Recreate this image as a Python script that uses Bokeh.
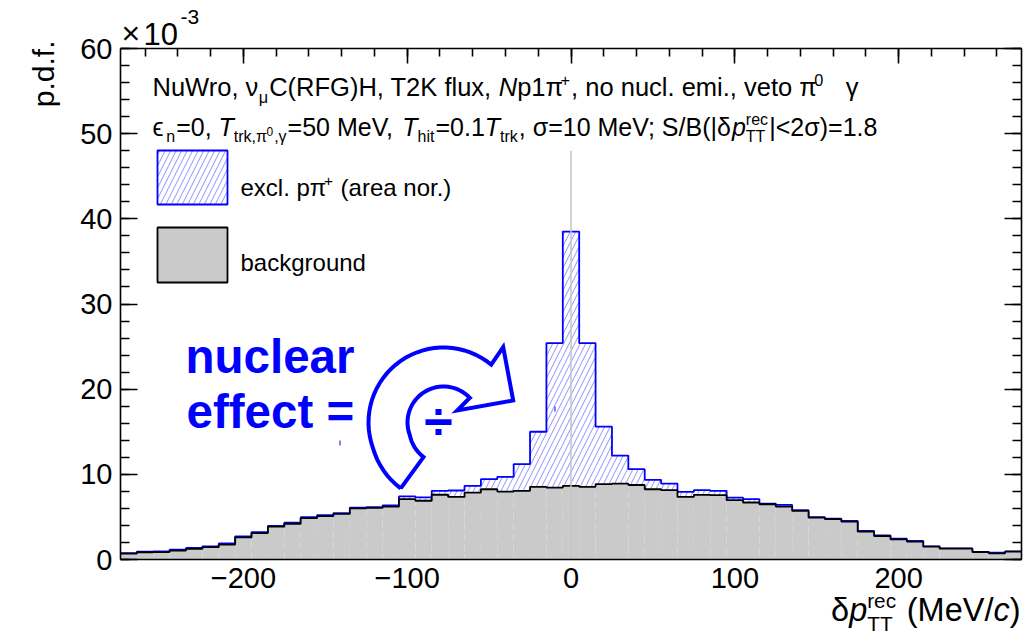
import math
from bokeh.plotting import figure
from bokeh.models import (Range1d, LinearAxis, FixedTicker, Label, ColumnDataSource)
from bokeh.embed import file_html
from bokeh.resources import INLINE

# ---------------- data (p.d.f. in units of 1e-3) ----------------
bin_edges = list(range(-275, 276, 10))  # 55 bins of 10 MeV/c

background_pdf = [
    0.70, 0.85, 0.87, 1.05, 1.25, 1.45, 1.75, 2.60, 3.10, 3.85,
    4.20, 4.85, 5.10, 5.35, 6.00, 6.05, 6.20, 7.10, 6.90, 7.60,
    7.35, 7.86, 8.25, 7.98, 8.06, 8.53, 8.45, 8.65, 8.53, 8.84,
    8.92, 8.75, 8.25, 8.14, 7.35, 7.59, 7.55, 6.96, 6.69, 6.49,
    6.22, 5.70, 4.92, 4.73, 4.45, 3.27, 2.76, 2.37, 2.10, 1.51,
    1.27, 1.27, 0.88, 0.73, 0.92]

signal_pdf = [
    0.75, 0.92, 0.94, 1.15, 1.35, 1.55, 1.88, 2.72, 3.22, 3.95,
    4.32, 4.97, 5.20, 5.45, 6.10, 6.15, 6.35, 7.42, 7.30, 8.06,
    8.10, 8.65, 9.43, 9.70, 11.2, 15.0, 25.4, 38.5, 25.4, 15.6,
    12.2, 10.6, 9.35, 8.92, 7.94, 8.14, 8.06, 7.27, 7.08, 6.57,
    6.41, 5.78, 4.97, 4.80, 4.53, 3.35, 2.84, 2.45, 2.18, 1.55,
    1.31, 1.31, 0.90, 0.80, 0.94]

x_ticks = [-200, -100, 0, 100, 200]
x_minor = list(range(-260, 261, 20))
y_ticks = [0, 10, 20, 30, 40, 50, 60]
y_minor = list(range(0, 61, 2))
X_LIM = (-275, 275)
Y_LIM = (0, 60)
legend_labels = ["excl. pπ", "background"]

# ---------------- geometry: the frame box inside the canvas ----------------
W, H = 1024, 643
BOX_L, BOX_R, BOX_T, BOX_B = 120, 1021, 48, 559
SX = (X_LIM[1] - X_LIM[0]) / (BOX_R - BOX_L)
SY = (Y_LIM[1] - Y_LIM[0]) / (BOX_B - BOX_T)
x_range = Range1d(X_LIM[0] - BOX_L * SX, X_LIM[0] + (W - BOX_L) * SX)
y_range = Range1d(Y_LIM[0] - (H - BOX_B) * SY, Y_LIM[0] + BOX_B * SY)


def px_x(px):
    return X_LIM[0] + (px - BOX_L) * SX


def px_y(py):
    return Y_LIM[0] + (BOX_B - py) * SY


p = figure(width=W, height=H, x_range=x_range, y_range=y_range,
           x_axis_type=None, y_axis_type=None,
           output_backend="svg", toolbar_location=None,
           min_border=0, min_border_left=0, min_border_right=0,
           min_border_top=0, min_border_bottom=0)
p.xgrid.visible = False
p.ygrid.visible = False
p.background_fill_color = "white"
p.border_fill_color = "white"
p.outline_line_color = None

FONT = "Liberation Sans"


def make_axis(loc, ticks, minor, major_len, minor_len, bounds, labels):
    ax = LinearAxis(fixed_location=loc, bounds=bounds,
                    ticker=FixedTicker(ticks=ticks, minor_ticks=minor))
    ax.axis_line_color = "black"
    ax.axis_line_width = 1.6
    ax.major_tick_in = major_len
    ax.major_tick_out = 0
    ax.minor_tick_in = minor_len
    ax.minor_tick_out = 0
    ax.major_tick_line_width = 1.6
    ax.minor_tick_line_width = 1.6
    ax.major_tick_line_color = "black"
    ax.minor_tick_line_color = "black"
    if labels:
        ax.major_label_text_font = FONT
        ax.major_label_text_font_size = "29px"
        ax.major_label_text_color = "black"
        ax.major_label_standoff = 8
    else:
        ax.major_label_text_font_size = "0px"
        ax.major_label_text_alpha = 0
        ax.major_label_standoff = 0
    return ax


# ---------------- histograms ----------------
lefts = bin_edges[:-1]
rights = bin_edges[1:]
src = ColumnDataSource(dict(left=lefts, right=rights, bkg=background_pdf, sig=signal_pdf,
                            zero=[0] * len(lefts)))

HATCH = dict(hatch_pattern="/", hatch_color="#5a5aff", hatch_alpha=0.85,
             hatch_scale=11, hatch_weight=0.8)
p.quad(left="left", right="right", bottom="zero", top="sig", source=src,
       fill_alpha=0, line_alpha=0, **HATCH)
p.step(x=bin_edges, y=signal_pdf + [signal_pdf[-1]], mode="after",
       line_color="#0000ff", line_width=1.8)
p.quad(left="left", right="right", bottom="zero", top="bkg", source=src,
       fill_color="#cacaca", line_alpha=0)
p.step(x=bin_edges, y=background_pdf + [background_pdf[-1]], mode="after",
       line_color="black", line_width=1.8)

# vertical line at 0
p.segment(x0=[0], y0=[0], x1=[0], y1=[48], line_color="#c4c4c4", line_width=1.5)

# axes (drawn as the frame box)
p.add_layout(make_axis(Y_LIM[0], x_ticks, x_minor, 0, 0, X_LIM, True), "below")
p.add_layout(make_axis(X_LIM[0], y_ticks, y_minor, 17, 9, Y_LIM, True), "left")
p.add_layout(make_axis(Y_LIM[1], x_ticks, x_minor, 15, 8, X_LIM, False), "above")
p.add_layout(make_axis(X_LIM[1], y_ticks, y_minor, 17, 9, Y_LIM, False), "right")

# ---------------- rich text helper ----------------
CW = {' ': .278, '!': .278, '(': .333, ')': .333, '+': .584, ',': .278, '-': .333, '.': .278,
      '/': .278, ':': .278, ';': .278, '<': .584, '=': .584, '>': .584, '|': .26,
      'A': .667, 'B': .667, 'C': .722, 'D': .722, 'E': .667, 'F': .611, 'G': .778, 'H': .722,
      'I': .278, 'J': .5, 'K': .667, 'L': .556, 'M': .833, 'N': .722, 'O': .778, 'P': .667,
      'Q': .778, 'R': .722, 'S': .667, 'T': .611, 'U': .722, 'V': .667, 'W': .944, 'X': .667,
      'Y': .667, 'Z': .611, 'a': .556, 'b': .556, 'c': .5, 'd': .556, 'e': .556, 'f': .278,
      'g': .556, 'h': .556, 'i': .222, 'j': .222, 'k': .5, 'l': .222, 'm': .833, 'n': .556,
      'o': .556, 'p': .556, 'q': .556, 'r': .333, 's': .5, 't': .278, 'u': .556, 'v': .5,
      'w': .722, 'x': .5, 'y': .5, 'z': .5, 'π': .59, 'ν': .5, 'μ': .577, 'γ': .5,
      'σ': .62, 'δ': .556, 'ϵ': .55, '×': .584}
MID = 0.35  # distance from baseline to the em-box middle, in em


def tw(s, size):
    return sum(CW.get(ch, .556) for ch in s) * size


def put(text, x_px, base_px, size, italic=False, color="black", bold=False):
    lead = len(text) - len(text.lstrip(" "))
    x_px += tw(" " * lead, size)
    text = text.strip(" ")
    style = "normal"
    if italic and bold:
        style = "bold italic"
    elif italic:
        style = "italic"
    elif bold:
        style = "bold"
    p.add_layout(Label(x=px_x(x_px), y=px_y(base_px - MID * size), text=text, text_font=FONT,
                       text_font_size=f"{size:.1f}px", text_font_style=style,
                       text_color=color, text_align="left", text_baseline="middle"))


SUBF = 0.64


def rich(segments, x_px, base_px, size, color="black", draw=True):
    x = x_px
    for seg in segments:
        if seg[1] == "subsup":
            sub, sup = seg[0]
            s2 = size * SUBF
            if draw:
                put(sub, x, base_px + 0.28 * size, s2, color=color)
                put(sup, x, base_px - 0.42 * size, s2, color=color)
            x += max(tw(sub, s2), tw(sup, s2)) + 0.05 * size
            continue
        text, kind, it = seg
        if kind == "n":
            s2, off = size, 0
        elif kind == "sub":
            s2, off = size * SUBF, 0.28 * size
        elif kind == "sup":
            s2, off = size * SUBF, -0.40 * size
        else:  # superscript inside subscript
            s2, off = size * 0.48, 0.0
        if draw:
            put(text, x, base_px + off, s2, italic=it, color=color)
        x += tw(text, s2) + (0.04 * size if kind != "n" else 0)
    return x - x_px


line1 = [("NuWro, ν", "n", False), ("μ", "sub", False), ("C(RFG)H, T2K flux, ", "n", False),
         ("N", "n", True), ("p1π", "n", False), ("+", "sup", False),
         (", no nucl. emi., veto π", "n", False), ("0", "sup", False), ("   γ", "n", False)]
rich(line1, 152, 95, 25.5)

line2 = [("ϵ", "n", False), ("n", "sub", False), ("=0, ", "n", False), ("T", "n", True),
         ("trk,π", "sub", False), ("0", "ssup", False), (",γ", "sub", False),
         ("=50 MeV, ", "n", False), ("T", "n", True), ("hit", "sub", False),
         ("=0.1", "n", False), ("T", "n", True), ("trk", "sub", False),
         (", σ=10 MeV; S/B(|δ", "n", False), ("p", "n", True), (("TT", "rec"), "subsup"),
         ("|<2σ)=1.8", "n", False)]
rich(line2, 152, 135, 25)

# ---------------- legend (drawn by hand, ROOT style) ----------------
p.quad(left="left", right="right", bottom="bottom", top="top",
       source=ColumnDataSource(dict(left=[px_x(157)], right=[px_x(227)],
                                    top=[px_y(150)], bottom=[px_y(204)])),
       fill_alpha=0, line_color="#0000ff", line_width=1.8, **HATCH)
p.quad(left="left", right="right", bottom="bottom", top="top",
       source=ColumnDataSource(dict(left=[px_x(157)], right=[px_x(227)],
                                    top=[px_y(227)], bottom=[px_y(282)])),
       fill_color="#cacaca", line_color="black", line_width=1.8)
LS = 24
rich([(legend_labels[0], "n", False), ("+", "sup", False), (" (area nor.)", "n", False)],
     240, 195, LS)
put(legend_labels[1], 240, 270, LS)

# axis titles
XS = 32.5
xtitle = [("δ", "n", False), ("p", "n", True), (("TT", "rec"), "subsup"),
          (" (MeV/", "n", False), ("c", "n", True), (")", "n", False)]
rich(xtitle, 1020 - rich(xtitle, 0, 0, XS, draw=False), 621, XS)

p.add_layout(Label(x=px_x(43), y=px_y(40), text="p.d.f.", angle=math.pi / 2,
                   text_font=FONT, text_font_size="30px", text_align="right",
                   text_baseline="alphabetic", text_color="black"))

put("×", 121, 44, 32)
put("10", 143, 44, 31)
put("-3", 180, 24, 21)

# ---------------- annotation: nuclear effect = (rotating arrow) ÷ ----------------
put("nuclear", 185, 373, 47.5, color="#0000ff", bold=True)
put("effect =", 186, 428, 47.5, color="#0000ff", bold=True)

cx, cy = 443.0, 422.0  # arrow centre in pixels
R_out, r_in = 75.0, 36.0
pts = []
n = 40
for i in range(n + 1):
    a = math.radians(237 - (237 - 50.5) * i / n)
    r = R_out + (78.6 - R_out) * (1 - i / 8) if i < 8 else R_out
    pts.append((cx + r * math.cos(a), cy - r * math.sin(a)))
pts += [(502.7, 346.7), (512.7, 400.0), (456.7, 410.0), (468.3, 398.3)]
for i in range(n + 1):
    a = math.radians(43 + (240 - 43) * i / n)
    r = r_in + (40.0 - r_in) * max(0.0, (i - n * 0.8) / (n * 0.2))
    pts.append((cx + r * math.cos(a), cy - r * math.sin(a)))
pts.append(pts[0])
p.line(x=[px_x(a) for a, b in pts], y=[px_y(b) for a, b in pts], line_color="#0000ff",
       line_width=4, line_join="miter")

p.add_layout(Label(x=px_x(438), y=px_y(420), text="÷", text_font=FONT,
                   text_font_size="52px", text_font_style="bold", text_color="#0000ff",
                   text_align="center", text_baseline="middle"))

p.segment(x0=[px_x(339.5), px_x(554.5)], y0=[px_y(440), px_y(406)],
          x1=[px_x(339.5), px_x(554.5)], y1=[px_y(445), px_y(411)],
          line_color="#0000ff", line_width=1)

open("out.html", "w").write(file_html(p, INLINE))
